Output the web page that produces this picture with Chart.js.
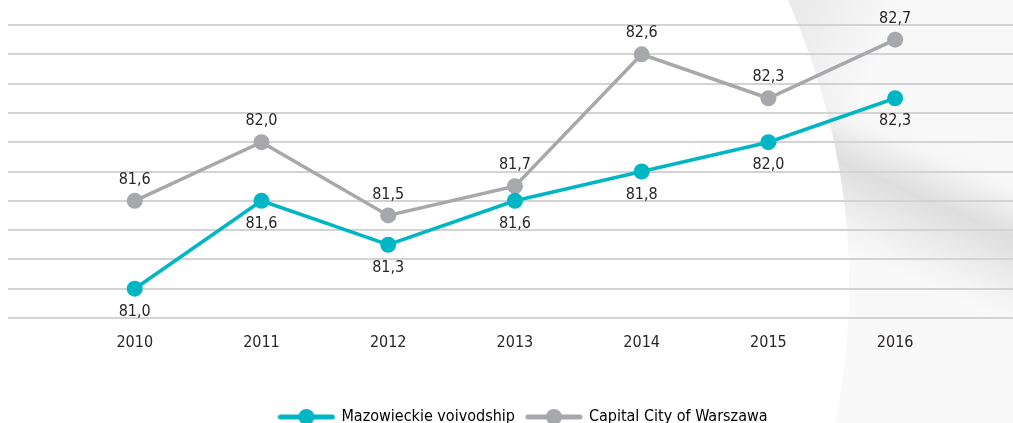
<!DOCTYPE html>
<html>
<head>
<meta charset="utf-8">
<script src="https://cdn.jsdelivr.net/npm/chart.js@4.4.1/dist/chart.umd.min.js"></script>
<style>
    html, body { margin: 0; padding: 0; background: #fff; overflow: hidden; }
    #wrap { width: 1013px; height: 435px; position: relative; }
</style>
</head>
<body>
<div id="wrap"><canvas id="grafico"></canvas></div>
<script>
// dados do gráfico
const anos = [2010, 2011, 2012, 2013, 2014, 2015, 2016];
const mazowieckie = [81.0, 81.6, 81.3, 81.6, 81.8, 82.0, 82.3];
const warszawa = [81.6, 82.0, 81.5, 81.7, 82.6, 82.3, 82.7];
const linhasY = [80.8, 81.0, 81.2, 81.4, 81.6, 81.8, 82.0, 82.2, 82.4, 82.6, 82.8];
const nomes = ['Mazowieckie voivodship', 'Capital City of Warszawa'];

const fonte = "'Liberation Sans Narrow', 'DejaVu Sans Condensed', 'Roboto', sans-serif";
const corTeal = '#00b6c4';
const corCinza = '#a7a8ac';

// marcador da legenda: linha com bolinha no meio
function criarMarcador(cor) {
    const c = document.createElement('canvas');
    c.width = 58;
    c.height = 18;
    const g = c.getContext('2d');
    g.strokeStyle = cor;
    g.lineWidth = 5;
    g.lineCap = 'round';
    g.beginPath();
    g.moveTo(3, 9);
    g.lineTo(55, 9);
    g.stroke();
    g.fillStyle = cor;
    g.beginPath();
    g.arc(29, 9, 8, 0, Math.PI * 2);
    g.fill();
    return c;
}
const marcadores = [criarMarcador(corTeal), criarMarcador(corCinza)];

// fundo decorativo (a "dobra" cinza à direita)
const fundo = {
    id: 'fundo',
    beforeDraw(chart) {
        const ctx = chart.ctx;
        ctx.save();
        ctx.beginPath();
        ctx.moveTo(788, 0);
        ctx.bezierCurveTo(835, 110, 872, 250, 832, 440);
        ctx.lineTo(1013, 440);
        ctx.lineTo(1013, 0);
        ctx.closePath();
        ctx.clip();
        ctx.fillStyle = '#f9f9f9';
        ctx.fillRect(780, 0, 240, 440);

        // sombra junto à borda esquerda
        const s = ctx.createLinearGradient(805, 0, 890, 40);
        s.addColorStop(0, 'rgba(0,0,0,0.06)');
        s.addColorStop(1, 'rgba(0,0,0,0)');
        ctx.fillStyle = s;
        ctx.fillRect(780, 0, 240, 440);

        // faixa diagonal
        const d = ctx.createLinearGradient(985, 130, 915, 290);
        d.addColorStop(0, 'rgba(255,255,255,0)');
        d.addColorStop(0.25, 'rgba(0,0,0,0.01)');
        d.addColorStop(0.5, 'rgba(0,0,0,0.11)');
        d.addColorStop(0.85, 'rgba(0,0,0,0.02)');
        d.addColorStop(1, 'rgba(255,255,255,0)');
        ctx.fillStyle = d;
        ctx.fillRect(780, 0, 240, 440);
        ctx.restore();
    }
};

// rótulos de valores (vírgula decimal)
const rotulos = {
    id: 'rotulos',
    afterLayout(chart) {
        // legenda um pouco à direita, como no original
        chart.legend.left += 13;
        chart.legend.right += 13;
    },
    afterDatasetsDraw(chart) {
        const ctx = chart.ctx;
        ctx.save();
        ctx.font = '16px ' + fonte;
        ctx.fillStyle = '#2a2526';
        ctx.textAlign = 'center';
        ctx.textBaseline = 'middle';
        chart.data.datasets.forEach((ds, i) => {
            const meta = chart.getDatasetMeta(i);
            meta.data.forEach((pt, j) => {
                const texto = ds.data[j].y.toFixed(1).replace('.', ',');
                ctx.fillText(texto, pt.x, pt.y + ds.deslocRotulo);
            });
        });
        ctx.restore();
    }
};

const ctx = document.getElementById('grafico').getContext('2d');
const grafico = new Chart(ctx, {
    type: 'line',
    data: {
        datasets: [{
            label: nomes[0],
            data: anos.map((a, i) => ({ x: a, y: mazowieckie[i] })),
            borderColor: corTeal,
            backgroundColor: corTeal,
            borderWidth: 3.5,
            pointRadius: 8,
            pointHoverRadius: 8,
            pointBorderWidth: 0,
            deslocRotulo: 23
        }, {
            label: nomes[1],
            data: anos.map((a, i) => ({ x: a, y: warszawa[i] })),
            borderColor: corCinza,
            backgroundColor: corCinza,
            borderWidth: 3.5,
            pointRadius: 8,
            pointHoverRadius: 8,
            pointBorderWidth: 0,
            deslocRotulo: -21
        }]
    },
    options: {
        responsive: true,
        maintainAspectRatio: false,
        animation: false,
        layout: {
            autoPadding: false,
            padding: { top: 25, left: 8, right: 0, bottom: 0 }
        },
        scales: {
            x: {
                type: 'linear',
                min: 2009,
                max: 2016.93,
                afterBuildTicks: axis => { axis.ticks = anos.map(a => ({ value: a })); },
                afterFit: axis => { axis.height = 79; },
                grid: { display: false, drawTicks: false },
                border: { display: false },
                ticks: {
                    padding: 15,
                    maxRotation: 0,
                    autoSkip: false,
                    color: '#2a2526',
                    font: { family: fonte, size: 16 },
                    callback: v => String(v)
                }
            },
            y: {
                min: 80.8,
                max: 82.8,
                afterBuildTicks: axis => { axis.ticks = linhasY.map(v => ({ value: v })); },
                afterFit: axis => { axis.width = 0; },
                border: { display: false },
                grid: { color: '#d3d3d5', lineWidth: 2, drawTicks: false },
                ticks: { display: false }
            }
        },
        plugins: {
            tooltip: { enabled: false },
            legend: {
                position: 'bottom',
                labels: {
                    usePointStyle: true,
                    pointStyleWidth: 54,
                    padding: 12,
                    color: '#2a2526',
                    font: { family: fonte, size: 16 },
                    generateLabels: chart => chart.data.datasets.map((ds, i) => ({
                        text: ds.label,
                        pointStyle: marcadores[i],
                        fillStyle: ds.borderColor,
                        strokeStyle: ds.borderColor,
                        lineWidth: 0,
                        datasetIndex: i,
                        hidden: false
                    }))
                }
            }
        }
    },
    plugins: [fundo, rotulos]
});
</script>
</body>
</html>
